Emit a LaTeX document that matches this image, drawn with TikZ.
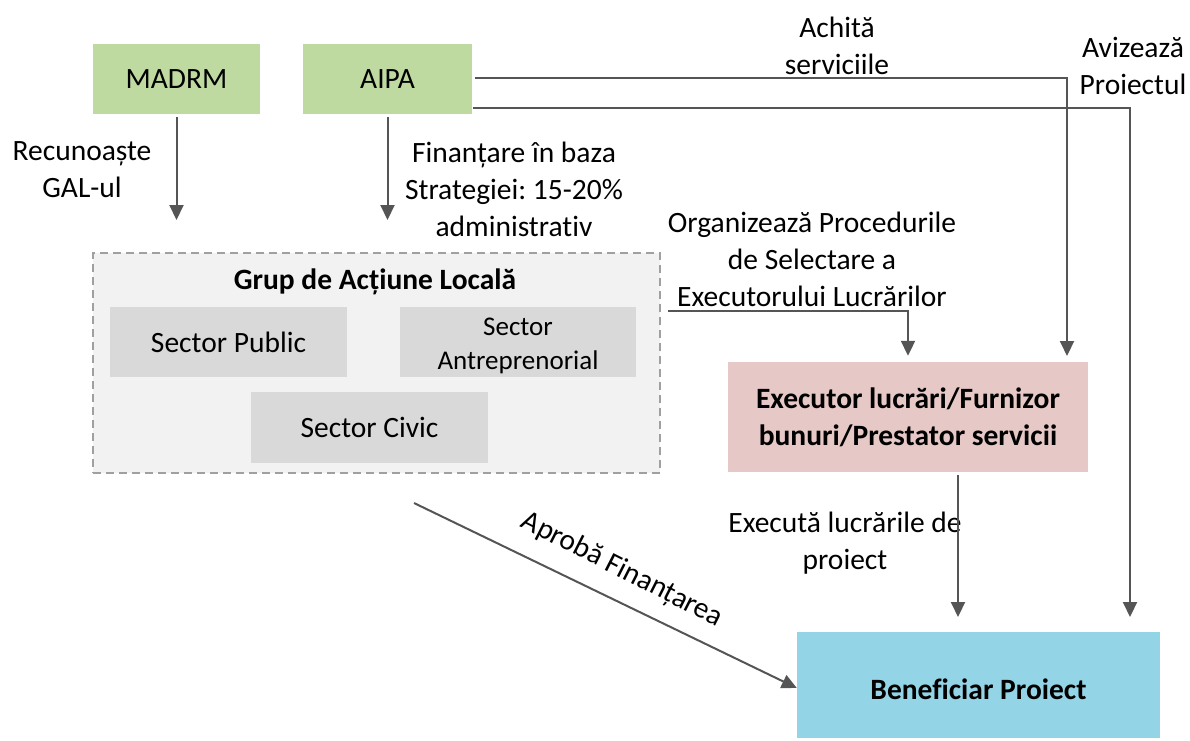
\documentclass[tikz,border=0pt]{standalone}
\usepackage{fontspec}
\setmainfont{Carlito}[Ligatures={NoCommon}]
\usetikzlibrary{arrows.meta}
\definecolor{grn}{RGB}{190,218,160}
\definecolor{pnk}{RGB}{230,200,198}
\definecolor{blu}{RGB}{147,212,230}
\definecolor{secg}{RGB}{217,217,217}
\definecolor{galf}{RGB}{242,242,242}
\definecolor{gald}{RGB}{160,160,160}
\definecolor{arrg}{RGB}{85,85,85}
\frenchspacing
\begin{document}
\begin{tikzpicture}[x=1pt,y=-1pt,
  box/.style={draw=none, inner sep=0pt, align=center, font=\fontsize{29.5}{37}\selectfont},
  lbl/.style={inner sep=0pt, align=center, font=\fontsize{29.5}{37}\selectfont},
  arr/.style={draw=arrg, line width=2pt, -{Triangle[width=14pt,length=15pt]}}]
\useasboundingbox (0,0) rectangle (1190,740);
% boxes
\node[box, fill=grn, minimum width=167pt, minimum height=70pt] (madrm) at (176.5,79) {MADRM};
\node[box, fill=grn, minimum width=169pt, minimum height=70pt] (aipa) at (387.5,79) {AIPA};
\node[box, fill=galf, draw=gald, line width=2pt, dash pattern=on 8pt off 5pt, minimum width=567pt, minimum height=220pt] (gal) at (376.5,363) {};
\node[lbl, font=\fontsize{29.5}{34}\selectfont\bfseries] (galt) at (375,282) {Grup de Acțiune Locală};
\node[box, fill=secg, minimum width=237pt, minimum height=70pt] (spub) at (228.5,342) {Sector Public};
\node[box, fill=secg, minimum width=236pt, minimum height=70pt] (sant) at (518,342) {};
\node[lbl, font=\fontsize{27}{34}\selectfont] (santt) at (518,346) {Sector\\Antreprenorial};
\node[box, fill=secg, minimum width=237pt, minimum height=71pt] (sciv) at (369.5,427.5) {Sector Civic};
\node[box, fill=pnk, minimum width=360pt, minimum height=110pt, font=\fontsize{29.5}{37}\selectfont\bfseries] (exec) at (908,417) {Executor lucrări/Furnizor\\bunuri/Prestator servicii};
\node[box, fill=blu, minimum width=363pt, minimum height=106pt] (benef) at (978.5,685) {};
\node[lbl, font=\fontsize{29.5}{37}\selectfont\bfseries] (beneft) at (978.5,689) {Beneficiar Proiect};
% labels
\node[lbl] (l1) at (82,170) {Recunoaște\\GAL-ul};
\node[lbl] (l2) at (514,189) {Finanțare în baza\\Strategiei: 15-20\%\\administrativ};
\node[lbl] (l3) at (837,46) {Achită\\serviciile};
\node[lbl] (l4) at (1133,66) {Avizează\\Proiectul};
\node[lbl] (l5) at (812,259) {Organizează Procedurile\\de Selectare a\\Executorului Lucrărilor};
\node[lbl] (l6) at (845,543) {Execută lucrările de\\proiect};
\node[lbl, rotate=-27] (l7) at (622,570) {Aprobă Finanțarea};
% coordinates
\coordinate (c1) at (176.5,220);
\coordinate (c2) at (387.5,220);
\coordinate (t1) at (1067,356);
\coordinate (t2) at (1130,617);
\coordinate (s4) at (668,311);
\coordinate (t3) at (958,617);
\coordinate (s5) at (414,503);
% connectors
\draw[arr] ([yshift=-3pt]madrm.south) -- (c1);
\draw[arr] ([yshift=-3pt]aipa.south) -- (c2);
\draw[arr] ([xshift=3pt,yshift=1pt]aipa.east) -| (t1);
\draw[arr] ([xshift=1pt,yshift=-29pt]aipa.east) -| (t2);
\draw[arr] (s4) -| ([yshift=6pt]exec.north);
\draw[arr] ([xshift=50pt,yshift=-3pt]exec.south) -- (t3);
\draw[arr] (s5) -- ([yshift=-3pt]benef.west);
\end{tikzpicture}
\end{document}
